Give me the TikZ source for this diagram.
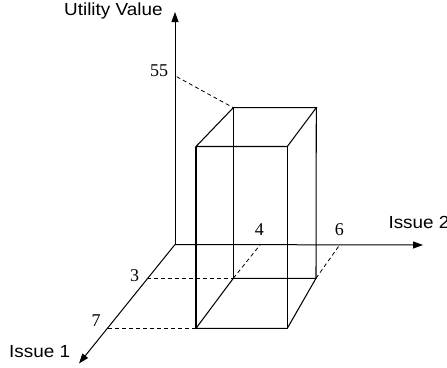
\documentclass[tikz,border=0pt]{standalone}
\usepackage{fontspec}
\setmainfont{Liberation Serif}
\newfontfamily\arialf{Liberation Sans}
\usetikzlibrary{arrows.meta}
\newcommand{\wlabel}[1]{\scalebox{1.08}[1]{\arialf\fontsize{17.5}{19}\selectfont #1}}
\tikzset{
  axis/.style={line width=1pt,-{Triangle[length=10pt,width=7pt]}},
  boxedge/.style={line width=1.05pt},
  guide/.style={line width=0.8pt,dash pattern=on 4pt off 3pt},
  num/.style={inner sep=0pt,font=\fontsize{18}{20}\selectfont},
  axlabel/.style={inner sep=0pt,anchor=base west}
}
\begin{document}
\begin{tikzpicture}[x=1pt,y=-1pt]
\useasboundingbox (0,0) rectangle (447,367);
% axes
\coordinate (O) at (175,244.5);
\coordinate (Yend) at (175,12);
\coordinate (X2end) at (423,245);
\coordinate (X1end) at (79,363.5);
\draw[axis] (O) -- (Yend);
\draw[axis] (O) -- (X2end);
\draw[axis] (O) -- (X1end);
% box corners
\coordinate (BTL) at (233.3,107.7);
\coordinate (BTR) at (316.3,107.7);
\coordinate (FTL) at (196,146.5);
\coordinate (FTR) at (287.3,146.5);
\coordinate (BBL) at (233.3,278.3);
\coordinate (BBR) at (316,278.3);
\coordinate (FBL) at (196,328.3);
\coordinate (FBR) at (287.3,328.3);
\draw[boxedge] (FTL) -- (BTL) -- (BTR) -- (FTR) -- cycle;
\draw[boxedge] (FBL) -- (BBL) -- (BBR) -- (FBR) -- cycle;
\draw[boxedge] (FTL) -- (FBL);
\draw[boxedge] (FTR) -- (FBR);
\draw[boxedge] (BTL) -- (BBL);
\draw[boxedge] (BTR) -- (BBR);
% guides
\coordinate (T55) at (176.7,76.7);
\coordinate (T3) at (146.7,278.3);
\coordinate (T7) at (108.3,328.3);
\coordinate (T4) at (260,245);
\coordinate (T6) at (338.5,246.5);
\draw[guide] (T55) -- (BTL);
\draw[guide] (T3) -- (BBL);
\draw[guide] (T7) -- (FBL);
\draw[guide] (BBL) -- (T4);
\draw[guide] (BBR) -- (T6);
% numbers
\node[num] (n55) at (159,70.5) {55};
\node[num] (n3) at (134.5,276) {3};
\node[num] (n7) at (96,320.5) {7};
\node[num] (n4) at (259.3,229.5) {4};
\node[num] (n6) at (339.3,229.5) {6};
% axis labels
\node[axlabel] (uv) at (64,15.7) {\wlabel{Utility Value}};
\node[axlabel] (i2) at (388.3,228.3) {\wlabel{Issue 2}};
\node[axlabel] (i1) at (9,357.3) {\wlabel{Issue 1}};
\end{tikzpicture}
\end{document}
